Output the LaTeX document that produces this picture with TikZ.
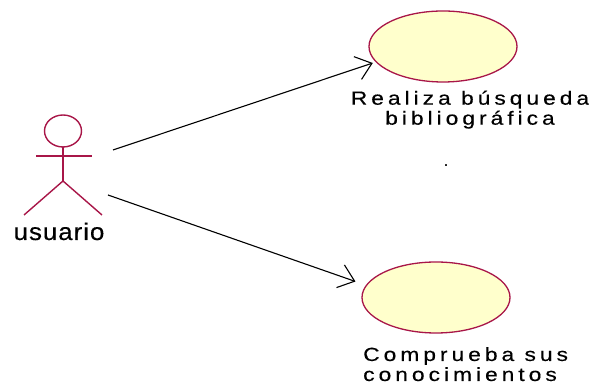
\documentclass[tikz,border=0pt]{standalone}
\usepackage{fontspec}
\setmainfont{Liberation Sans}
\newfontfamily\ucfont[FakeStretch=1.2,LetterSpace=21,FakeBold=0.4]{Liberation Sans}
\newfontfamily\actfont[FakeStretch=1.08,LetterSpace=4,FakeBold=0.4]{Liberation Sans}
\usetikzlibrary{shapes.geometric,arrows.meta}
\definecolor{umlred}{RGB}{168,22,72}
\definecolor{umlfill}{RGB}{255,255,204}
\tikzset{
	usecase/.style={ellipse,draw=umlred,fill=umlfill,line width=1.3pt,minimum width=148pt,minimum height=71pt,inner sep=0pt},
	actorline/.style={draw=umlred,line width=1.4pt},
	assoc/.style={line width=1.1pt,-{Straight Barb[length=15pt,width=24pt,line width=1.1pt]}},
	uclabel/.style={font=\ucfont\fontsize{19}{20}\selectfont,inner sep=0pt},
}
\begin{document}
\begin{tikzpicture}[x=1pt,y=1pt]
	\useasboundingbox (0,0) rectangle (589,387);
	% actor
	\coordinate (head) at (63,256);
	\coordinate (neck) at (63,240);
	\coordinate (hip) at (63,206);
	\draw[actorline] (head) ellipse [x radius=18.5, y radius=16];
	\draw[actorline] (neck)--(hip);
	\draw[actorline] (36,231)--(92,231);
	\draw[actorline] (24,172)--(hip)--(102,172);
	\node[font=\actfont\fontsize{24}{24}\selectfont,inner sep=0pt,anchor=base] (user) at (59,147) {usuario};
	% use cases
	\node[usecase] (search) at (443,340.5) {};
	\node[usecase] (check) at (436,89.5) {};
	\node[uclabel,align=center,anchor=north] (searchtxt) at (470,296.5) {Realiza búsqueda\\bibliográfica};
	\node[uclabel,align=left,anchor=north west] (checktxt) at (363,40) {Comprueba sus\\conocimientos};
	\node[font=\fontsize{18}{20}\selectfont,inner sep=0pt] (dot) at (446,221) {.};
	% associations
	\coordinate (a1) at (113,237);
	\coordinate (a2) at (108,192);
	\draw[assoc,shorten >=3pt] (a1)--(search.193);
	\draw[assoc,shorten >=11pt] (a2)--(check.170);
\end{tikzpicture}
\end{document}
